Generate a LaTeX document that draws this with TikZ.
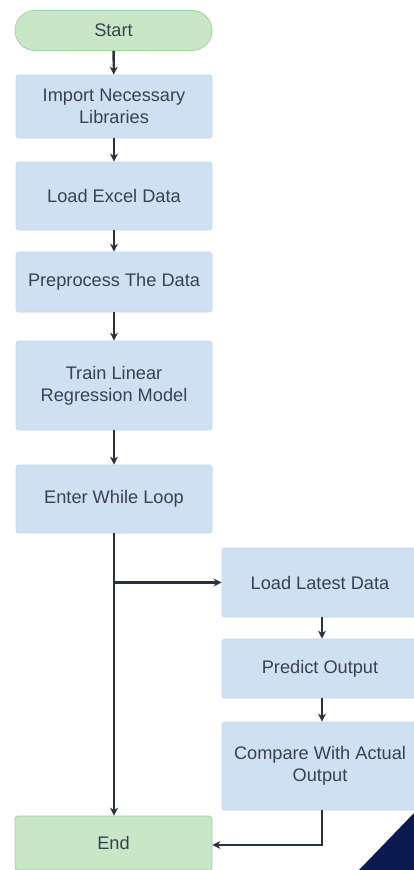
\documentclass[tikz,border=0pt]{standalone}
\usepackage{fontspec}
\setmainfont{Liberation Sans}
\usetikzlibrary{arrows.meta}
\definecolor{boxblue}{HTML}{CFE0F2}
\definecolor{boxblueline}{HTML}{C2D6EC}
\definecolor{boxgreen}{HTML}{C8E7C6}
\definecolor{boxgreenline}{HTML}{A3D3A0}
\definecolor{txt}{HTML}{3A4150}
\definecolor{arr}{HTML}{2B313D}
\definecolor{navy}{HTML}{0B1A4F}
\begin{document}
\begin{tikzpicture}[x=1pt,y=-1pt,
  base/.style={font=\fontsize{18.2}{22}\selectfont, text=txt, align=center, inner sep=0pt, line width=0.8pt},
  bluebox/.style={base, fill=boxblue, draw=boxblueline, rounded corners=3pt, minimum width=196pt},
  greenbox/.style={base, fill=boxgreen, draw=boxgreenline, minimum width=197pt},
  flow/.style={draw=arr, line width=2.4pt, -{Stealth[length=8pt,width=8pt]}}
]
\useasboundingbox (0,0) rectangle (414,870);
\clip (0,0) rectangle (414,870);
\fill[white] (0,0) rectangle (414,870);

\node[greenbox, rounded corners=20pt, minimum height=40pt] (start) at (113.5,30.5) {Start};
\node[bluebox, minimum height=63pt] (import) at (114,106.5) {Import Necessary\\Libraries};
\node[bluebox, minimum height=68pt] (excel) at (114,196) {Load Excel Data};
\node[bluebox, minimum height=60pt] (prep) at (114,282) {Preprocess The Data};
\node[bluebox, minimum height=89pt] (train) at (114,385.5) {Train Linear\\Regression Model};
\node[bluebox, minimum height=68pt] (loop) at (114,499) {Enter While Loop};
\node[bluebox, minimum height=69pt] (latest) at (320,582.5) {Load Latest Data};
\node[bluebox, minimum height=59pt] (predict) at (320,668.5) {Predict Output};
\node[bluebox, minimum height=88pt] (compare) at (320,766) {Compare With Actual\\Output};
\node[greenbox, rounded corners=3pt, minimum height=54pt] (end) at (113.5,843) {End};

\draw[flow] (start) -- (import);
\draw[flow] (import) -- (excel);
\draw[flow] (excel) -- (prep);
\draw[flow] (prep) -- (train);
\draw[flow] (train) -- (loop);
\draw[flow] (loop.south -| 114,0) -- (end.north -| 114,0);
\coordinate (br) at (114,582.5);
\draw[flow] (br) -- (latest.west);
\draw[flow] (latest.south -| 322,0) -- (predict.north -| 322,0);
\draw[flow] (predict.south -| 322,0) -- (compare.north -| 322,0);
\coordinate (turn) at (322,845);
\draw[flow] (compare.south -| 322,0) -- (turn) -- (end.east |- turn);

\fill[navy] (359,870) -- (414,813) -- (414,870) -- cycle;
\end{tikzpicture}
\end{document}
